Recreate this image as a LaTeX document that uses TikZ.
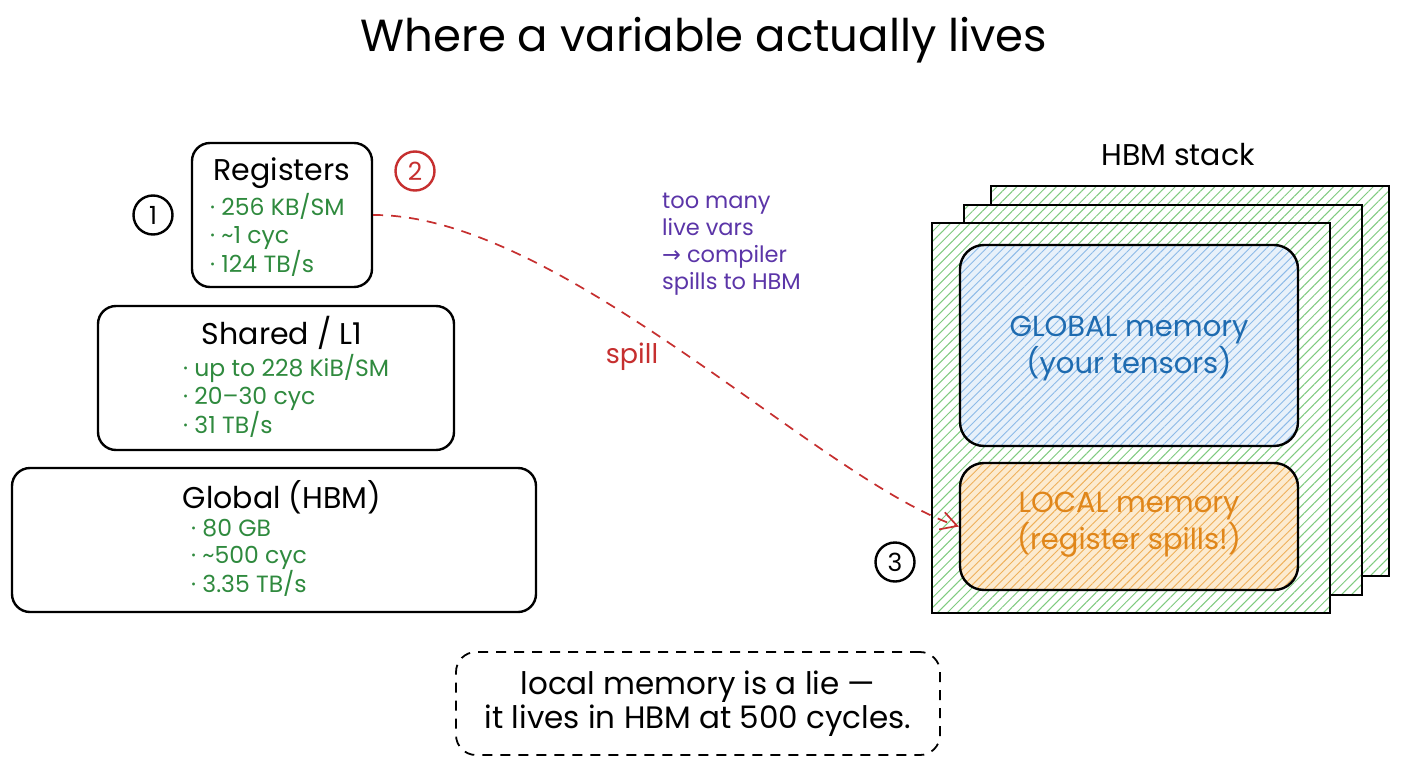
\documentclass[tikz,border=0pt]{standalone}
\usepackage{fontspec}
\setmainfont{Poppins}
\newfontfamily\symfont{DejaVu Sans}
\usetikzlibrary{patterns.meta,arrows.meta}
\definecolor{tgreen}{HTML}{2F8A3E}
\definecolor{tblue}{HTML}{1E6BB0}
\definecolor{torange}{HTML}{E0861A}
\definecolor{tpurple}{HTML}{5B35A8}
\definecolor{tred}{HTML}{C62F2F}
\definecolor{hgreen}{HTML}{7FCB7F}
\definecolor{hblue}{HTML}{8CBAE8}
\definecolor{horange}{HTML}{EFB05A}
\definecolor{fblue}{HTML}{E8F1FA}
\definecolor{forange}{HTML}{FCEBD0}
\tikzset{
  box/.style={draw=black, line width=2.4pt, rounded corners=18pt, fill=white},
  htitle/.style={font=\fontsize{30}{34}\selectfont, inner sep=0pt},
  bul/.style={font=\fontsize{23.5}{27.5}\selectfont, text=tgreen, align=left, inner sep=0pt, anchor=west},
  circ/.style={circle, draw, line width=2.4pt, minimum size=39pt, inner sep=0pt, font=\fontsize{25}{25}\selectfont},
  layer/.style={draw=black, line width=2pt, minimum width=398pt, minimum height=390pt,
    preaction={fill=white}, pattern={Lines[angle=45,distance=7pt,line width=1pt]}, pattern color=hgreen},
  memglob/.style={draw=black, line width=2.4pt, rounded corners=24pt, minimum width=338pt, minimum height=201pt,
    preaction={fill=fblue}, pattern={Lines[angle=45,distance=6pt,line width=0.9pt]}, pattern color=hblue},
  memloc/.style={draw=black, line width=2.4pt, rounded corners=24pt, minimum width=338pt, minimum height=127pt,
    preaction={fill=forange}, pattern={Lines[angle=45,distance=6pt,line width=0.9pt]}, pattern color=horange},
  memtext/.style={font=\fontsize{29}{37}\selectfont, align=center, inner sep=0pt},
}
\begin{document}
\begin{tikzpicture}[x=1pt,y=-1pt]
\useasboundingbox[fill=white] (0,0) rectangle (1408,768);
% title
\node[font=\fontsize{45}{50}\selectfont, inner sep=0pt] (title) at (704,40) {Where a variable actually lives};
% hierarchy boxes
\node[box, minimum width=180pt, minimum height=144pt] (reg) at (282,215) {};
\node[htitle] (regt) at (282,173) {Registers};
\node[bul] (regb) at (210,235) {· 256 KB/SM\\· \textasciitilde1 cyc\\· 124 TB/s};
\node[box, minimum width=356pt, minimum height=144pt] (sh) at (276,378) {};
\node[htitle] (sht) at (282,333) {Shared / L1};
\node[bul] (shb) at (183,396) {· up to 228 KiB/SM\\· 20–30 cyc\\· 31 TB/s};
\node[box, minimum width=524pt, minimum height=144pt] (gl) at (274,540) {};
\node[htitle] (glt) at (282,497) {Global (HBM)};
\node[bul] (glb) at (191,558) {· 80 GB\\· \textasciitilde500 cyc\\· 3.35 TB/s};
% markers
\node[circ] (c1) at (153,215) {1};
\node[circ, draw=tred, text=tred] (c2) at (415,171) {2};
% HBM stack
\node[font=\fontsize{30}{34}\selectfont, inner sep=0pt] (hbmt) at (1178,155) {HBM stack};
\node[layer] (l3) at (1190,381) {};
\node[layer] (l2) at (1163,400) {};
\node[layer] (l1) at (1131,418) {};
\node[memglob] (glob) at (1129,345.5) {};
\node[memtext, text=tblue] (globt) at (1129,349) {GLOBAL memory\\(your tensors)};
\node[memloc] (loc) at (1129,526.5) {};
\node[memtext, text=torange] (loct) at (1129,525) {LOCAL memory\\(register spills!)};
\node[circ] (c3) at (895,562) {3};
% spill
\draw[tred, line width=1.7pt, dash pattern=on 10pt off 8pt, -{Straight Barb[length=16pt,width=18pt,line width=1.7pt]}]
  (reg.east) .. controls (560,214) and (820,480) .. (loc.west);
\node[text=tred, font=\fontsize{27}{30}\selectfont, inner sep=0pt] (spill) at (632,357) {spill};
\node[text=tpurple, font=\fontsize{22.5}{27}\selectfont, align=left, inner sep=0pt, anchor=west] (why) at (662,244)
  {too many\\live vars\\{\symfont →} compiler\\spills to HBM};
% note
\node[draw=black, line width=1.8pt, dash pattern=on 10pt off 8pt, rounded corners=20pt, minimum width=484pt, minimum height=103pt,
  font=\fontsize{31}{34}\selectfont, align=center] (note) at (698,703.5)
  {local memory is a lie —\\it lives in HBM at 500 cycles.};
\end{tikzpicture}
\end{document}
